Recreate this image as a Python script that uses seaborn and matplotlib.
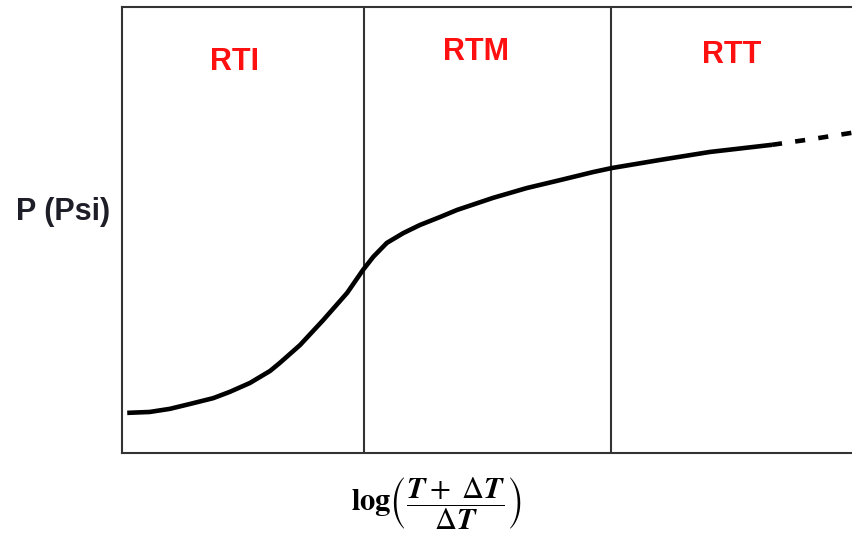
import matplotlib
matplotlib.use("Agg")
import matplotlib.pyplot as plt
import seaborn as sns
import pandas as pd

# ---- data (arbitrary units) ----
curve_x = [0.07, 0.37, 0.64, 0.91, 1.22, 1.44, 1.71, 1.98, 2.11, 2.38, 2.69, 3.01,
           3.22, 3.36, 3.54, 3.76, 3.98, 4.25, 4.48, 4.96, 5.41, 5.86, 6.30, 6.55,
           7.19, 7.86, 8.69]
curve_y = [0.90, 0.92, 0.99, 1.10, 1.23, 1.37, 1.57, 1.84, 2.02, 2.42, 2.98, 3.59,
           4.10, 4.40, 4.71, 4.93, 5.11, 5.29, 5.45, 5.72, 5.94, 6.12, 6.30, 6.39,
           6.57, 6.75, 6.91]
extrap_x = [8.69, 9.23, 9.76, 10.0]
extrap_y = [6.91, 7.04, 7.18, 7.23]
region_bounds = [3.235, 6.544]
region_names = ["RTI", "RTM", "RTT"]
region_label_x = [1.50, 4.73, 8.15]
region_label_y = [8.77, 8.99, 8.92]

sns.set_style("white")
plt.rcParams["font.family"] = ["Liberation Sans", "DejaVu Sans"]
plt.rcParams["mathtext.fontset"] = "stix"

fig = plt.figure(figsize=(8.52, 5.35), dpi=100)
W, H = 852, 535
ax = fig.add_axes([122 / W, (H - 453) / H, (870 - 122) / W, (453 - 7) / H])

solid = pd.DataFrame({"x": curve_x, "y": curve_y})
dashed = pd.DataFrame({"x": extrap_x, "y": extrap_y})
sns.lineplot(data=solid, x="x", y="y", ax=ax, sort=False, color="black",
             linewidth=3.3, solid_capstyle="butt", solid_joinstyle="round")
sns.lineplot(data=dashed, x="x", y="y", ax=ax, sort=False, color="black",
             linewidth=3.3)
ax.lines[-1].set_dashes([2.2, 2.9])
ax.lines[-1].set_dash_capstyle("butt")

for b in region_bounds:
    ax.axvline(b, color="#333333", linewidth=1.5, zorder=1)

for name, tx, ty in zip(region_names, region_label_x, region_label_y):
    ax.text(tx, ty, name, color="#ff1010", fontsize=22, fontweight="bold",
            ha="center", va="center")

ax.set_xlim(0, 10)
ax.set_ylim(0, 10)
ax.set_xticks([])
ax.set_yticks([])
for s in ["left", "top", "bottom", "right"]:
    ax.spines[s].set_color("#333333")
    ax.spines[s].set_linewidth(1.5)

ax.set_ylabel("P (Psi)", rotation=0, fontsize=22, fontweight="bold",
              color="#1e1e28", ha="right", va="center")
ax.yaxis.set_label_coords(-12 / 748, (453 - 212) / 446)

ax.set_xlabel(r"$\mathbf{log}\left(\dfrac{\mathbfit{T}+\ \Delta\mathbfit{T}}{\Delta\mathbfit{T}}\right)$",
              fontsize=22, color="black", va="center")
ax.xaxis.set_label_coords((436 - 122) / 748, -(504 - 453) / 446)

fig.savefig("out.png", dpi=100)
